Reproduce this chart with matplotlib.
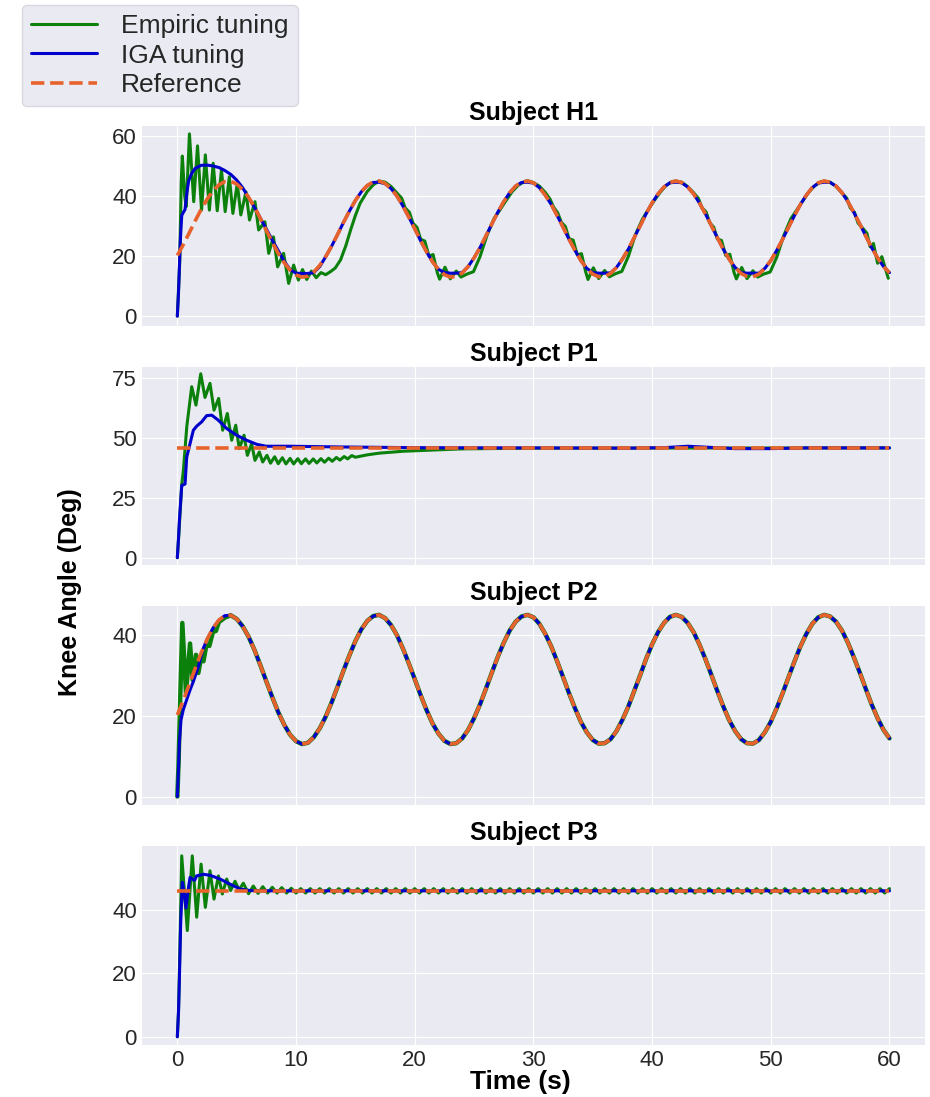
import numpy as np
import matplotlib.pyplot as plt

plt.style.use('seaborn-v0_8-darkgrid')
plt.rcParams['font.family'] = ['Liberation Sans', 'DejaVu Sans']

# reference knee trajectory (H1 and P2), sampled every 0.5 s from 0 to 60 s
ref_wave = [20.2, 23.8, 27.7, 31.7, 35.5, 38.9, 41.7, 43.7, 44.8, 44.9,
            44.0, 42.2, 39.6, 36.3, 32.5, 28.5, 24.6, 20.9, 17.8, 15.3,
            13.7, 13.0, 13.3, 14.7, 16.9, 19.8, 23.3, 27.2, 31.2, 35.0,
            38.5, 41.4, 43.5, 44.7, 45.0, 44.2, 42.5, 40.0, 36.7, 33.0,
            29.1, 25.1, 21.4, 18.1, 15.6, 13.8, 13.0, 13.2, 14.4, 16.5,
            19.4, 22.8, 26.7, 30.7, 34.6, 38.1, 41.1, 43.3, 44.6, 45.0,
            44.4, 42.8, 40.3, 37.2, 33.5, 29.6, 25.6, 21.9, 18.5, 15.9,
            14.0, 13.1, 13.2, 14.2, 16.2, 19.0, 22.3, 26.2, 30.1, 34.1,
            37.7, 40.7, 43.0, 44.5, 45.0, 44.5, 43.0, 40.7, 37.6, 34.0,
            30.1, 26.1, 22.3, 18.9, 16.2, 14.2, 13.2, 13.1, 14.0, 15.9,
            18.5, 21.9, 25.6, 29.6, 33.5, 37.2, 40.3, 42.8, 44.4, 45.0,
            44.6, 43.3, 41.1, 38.1, 34.5, 30.7, 26.7, 22.8, 19.4, 16.5,
            14.4]
ref_wave_t = 0.5 * np.arange(len(ref_wave))

# ---- Subject H1 ----
blue_h1_t = [0, 0.1, 0.25, 0.37, 0.5, 0.65, 0.8, 0.95, 1.2, 1.5, 2.0, 2.5, 3.0,
             3.5, 4.0, 4.5, 5.0, 5.5, 6.0, 6.5, 7.0, 7.5, 8.0, 8.5, 9.0, 9.5,
             10.0, 10.5, 11.0, 11.5, 12.0]
blue_h1 = [0, 8, 25, 33.5, 34.5, 35.5, 41, 45, 47.5, 49.2, 50.2, 50.3, 50.0,
           49.5, 48.5, 47.2, 45.3, 42.8, 39.5, 36.2, 32.6, 29.0, 25.3, 21.8, 18.3, 15.5,
           14.3, 14.2, 14.2, 14.5, 16.5]
blue_h1_late = [19.8, 23.3, 27.2, 31.2, 35.0, 38.5, 41.4, 43.5, 44.5, 44.6,
                44.1, 42.5, 40.0, 36.7, 33.0, 29.1, 25.1, 21.4, 18.1, 15.6,
                14.5, 14.3, 14.3, 14.5, 16.5, 19.4, 22.8, 26.7, 30.7, 34.6,
                38.1, 41.1, 43.3, 44.5, 44.6, 44.3, 42.8, 40.3, 37.2, 33.5,
                29.6, 25.6, 21.9, 18.5, 15.9, 14.5, 14.3, 14.3, 14.4, 16.2,
                19.0, 22.3, 26.2, 30.1, 34.1, 37.7, 40.7, 43.0, 44.4, 44.6,
                44.4, 43.0, 40.7, 37.6, 34.0, 30.1, 26.1, 22.3, 18.9, 16.2,
                14.5, 14.3, 14.3, 14.3, 15.9, 18.5, 21.9, 25.6, 29.6, 33.5,
                37.2, 40.3, 42.8, 44.3, 44.6, 44.5, 43.3, 41.1, 38.1, 34.5,
                30.7, 26.7, 22.8, 19.4, 16.5, 14.5]
blue_h1_late_t = 12.5 + 0.5 * np.arange(len(blue_h1_late))

green_h1_t = [0, 0.2, 0.33, 0.42, 0.62, 0.75, 1.02, 1.38, 1.7, 2.04, 2.36, 2.7,
              3.02, 3.36, 3.72, 4.03, 4.38, 4.68, 5.05, 5.35, 5.78, 6.08, 6.54, 6.85,
              7.38, 7.7, 8.1, 8.45, 8.95, 9.38, 9.8, 10.2, 10.55, 10.9, 11.3, 11.7,
              12.1, 12.5, 12.9, 13.3, 13.75, 14.2, 14.6, 15.0, 15.4, 16.0, 16.5,
              17.0, 17.5, 18.0, 18.5, 18.9, 19.2, 19.55, 19.85, 20.2, 20.5, 20.85, 21.2,
              21.55, 21.9, 22.1, 22.55, 23.0, 23.5, 23.9, 24.4, 24.95, 25.5, 26.1, 26.7,
              27.2, 27.7, 28.2, 28.7, 29.2,
              29.5, 30.0, 30.5, 31.0, 31.4, 31.7, 32.05, 32.35, 32.7, 33.0, 33.35, 33.7,
              34.05, 34.4, 34.6, 35.05, 35.5, 36.0, 36.4, 36.9, 37.45, 38.0, 38.6, 39.2,
              39.7, 40.2, 40.7, 41.2, 41.7,
              42.0, 42.5, 43.0, 43.5, 43.9, 44.2, 44.55, 44.85, 45.2, 45.5, 45.85, 46.2,
              46.55, 46.9, 47.1, 47.55, 48.0, 48.5, 48.9, 49.4, 49.95, 50.5, 51.1, 51.7,
              52.2, 52.7, 53.2, 53.7, 54.2,
              54.5, 55.0, 55.5, 56.0, 56.4, 56.7, 57.05, 57.35, 57.7, 58.1, 58.37, 58.65,
              59.0, 59.36, 59.9]
green_h1 = [0, 18, 45, 53.3, 40, 36.5, 60.7, 38.1, 56.7, 35.3, 53.7, 35.3,
            50.9, 35.1, 48.7, 34.8, 46.4, 34.2, 44.2, 33.7, 41.4, 32.0, 38.1, 28.7,
            31.4, 20.9, 26.4, 16.4, 20.9, 10.9, 17.0, 12.0, 15.5, 12.2, 15.0, 12.8,
            14.5, 13.8, 14.8, 16.0, 18.7, 23.5, 28.7, 33.5, 37.6, 41.5, 43.7,
            45.0, 44.6, 43.2, 41.0, 39.3, 36.0, 34.6, 31.0, 29.5, 25.6, 25.0, 20.0,
            20.5, 14.5, 12.3, 16.3, 12.4, 15.0, 13.0, 14.0, 14.8, 19.8, 27.0, 32.6,
            35.5, 38.5, 41.4, 43.5, 44.7,
            45.1, 44.5, 43.3, 41.2, 39.0, 36.3, 34.4, 31.3, 29.8, 25.8, 25.3, 20.4,
            20.8, 14.8, 12.2, 16.1, 12.5, 15.2, 13.1, 14.1, 14.9, 19.9, 27.2, 32.4,
            35.6, 38.6, 41.3, 43.6, 44.8,
            45.0, 44.6, 43.1, 41.1, 39.2, 36.1, 34.7, 31.1, 29.6, 25.7, 25.2, 20.2,
            20.6, 14.6, 12.4, 16.2, 12.5, 15.1, 13.0, 14.0, 14.7, 19.6, 26.9, 32.5,
            35.4, 38.4, 41.3, 43.4, 44.7,
            45.0, 44.6, 43.2, 41.0, 39.3, 36.0, 34.6, 31.0, 29.5, 27.6, 23.1, 24.2,
            17.6, 19.8, 12.6]

# ---- Subject P1 ----
ref_p1_t = [0, 60]
ref_p1 = [46.0, 46.0]
blue_p1_t = [0, 0.1, 0.17, 0.37, 0.5, 0.65, 0.79, 1.07, 1.35, 1.63, 2.05, 2.47, 2.9,
             3.45, 4.16, 5.0, 5.84, 6.69, 7.5, 9.5, 13.7, 20, 30, 38, 41, 43, 45, 47,
             50, 53, 60]
blue_p1 = [0, 8, 15.4, 30.2, 30.5, 30.8, 42, 47.7, 53.3, 55, 56.8, 59.4, 59.6,
           57.5, 54, 51.2, 49.1, 47.4, 46.6, 46.6, 46.3, 46.0, 45.9, 45.8, 46.0, 46.6, 46.1, 45.6,
           45.6, 45.9, 45.9]
green_p1_t = [0, 0.2, 0.37, 0.5, 0.8, 1.21, 1.57, 1.97, 2.33, 2.75,
              3.09, 3.48, 3.82, 4.21, 4.58, 4.92, 5.22, 5.62, 5.9, 6.26,
              6.54, 6.91, 7.19, 7.55, 7.85, 8.2, 8.5, 8.85, 9.15, 9.5,
              9.8, 10.15, 10.45, 10.8, 11.1, 11.45, 11.75, 12.1, 12.4, 12.75,
              13.05, 13.4, 13.7, 14.05, 14.35, 14.7, 15.0, 16.0, 17.0, 18.0,
              19.0, 20.0, 22.0, 24.0, 26.0, 30.0, 60.0]
green_p1 = [0, 16, 30.5, 36, 55, 71.5, 63.8, 76.9, 67, 72.9,
            61.7, 66.6, 53.3, 60.3, 49.1, 55.4, 45.6, 51.2, 42.8, 47.7,
            40.7, 44.2, 40.0, 42.8, 39.5, 42.2, 39.3, 41.8, 39.2, 41.5,
            39.2, 41.4, 39.3, 41.3, 39.4, 41.3, 39.6, 41.4, 39.9, 41.6,
            40.3, 41.9, 40.8, 42.3, 41.3, 42.7, 42.0, 43.0, 43.7, 44.1,
            44.5, 44.7, 45.1, 45.5, 45.6, 45.8, 45.9]

# ---- Subject P2 ----
blue_p2_t = [0, 0.1, 0.17, 0.31, 0.5, 0.79, 1.07, 1.35, 1.77, 2.2]
blue_p2 = [0, 7, 13.2, 19, 21.5, 24, 26.4, 28.5, 32.2, 36.8]
green_p2_t = [0, 0.1, 0.25, 0.42, 0.73, 1.07, 1.29, 1.57, 1.77, 2.0, 2.2, 2.45,
              2.7, 3.0, 3.25, 3.5, 4.0]
green_p2 = [0, 8, 25, 43, 25.6, 37.9, 28.9, 35.1, 30.6, 34.3, 33.5, 37.5,
            37.3, 40.8, 41.0, 43.2, 44.3]

# ---- Subject P3 ----
ref_p3_t = [0, 60]
ref_p3 = [45.8, 45.8]
blue_p3_t = [0, 0.1, 0.17, 0.28, 0.42, 0.55, 0.73, 0.9, 1.07, 1.3, 1.45, 1.63, 2.19,
             2.75, 3.6, 4.44, 5.28, 6.1, 7.0, 60]
blue_p3 = [0, 8, 17.8, 35.5, 48.6, 46, 40.5, 46, 50.1, 49.5, 49.2, 50.6, 51.1,
           50.8, 49.6, 48.0, 46.5, 46.0, 45.9, 45.9]
green_p3_t = [0, 0.1, 0.2, 0.37, 0.84, 1.26, 1.63, 2.0, 2.36, 2.75, 3.09, 3.46,
              3.79, 4.16, 4.49, 4.86, 5.2, 5.56]
green_p3 = [0, 8, 25, 56.9, 33.4, 56.9, 37.6, 54.3, 40.7, 52.2, 43.3, 50.6,
            44.9, 49.6, 46.0, 48.9, 46.2, 48.3]
# small steady ripple after the transient, every 0.4 s from 6 s
green_p3_ripple = [45.0, 47.4, 45.1, 47.2, 45.2, 47.0, 45.2, 46.9,
                   45.2, 46.7, 45.2, 46.6, 45.2, 46.6, 45.2, 46.6,
                   45.2, 46.6, 45.2, 46.6, 45.2, 46.6, 45.2, 46.6,
                   45.2, 46.6, 45.2, 46.6, 45.2, 46.6, 45.2, 46.6,
                   45.2, 46.6, 45.2, 46.6, 45.2, 46.6, 45.2, 46.6,
                   45.2, 46.6, 45.2, 46.6, 45.2, 46.6, 45.2, 46.6,
                   45.2, 46.6, 45.2, 46.6, 45.2, 46.6, 45.2, 46.6,
                   45.2, 46.6, 45.2, 46.6, 45.2, 46.6, 45.2, 46.6,
                   45.2, 46.6, 45.2, 46.6, 45.2, 46.6, 45.2, 46.6,
                   45.2, 46.6, 45.2, 46.6, 45.2, 46.6, 45.2, 46.6,
                   45.2, 46.6, 45.2, 46.6, 45.2, 46.6, 45.2, 46.6,
                   45.2, 46.6, 45.2, 46.6, 45.2, 46.6, 45.2, 46.6,
                   45.2, 46.6, 45.2, 46.6, 45.2, 46.6, 45.2, 46.6,
                   45.2, 46.6, 45.2, 46.6, 45.2, 46.6, 45.2, 46.6,
                   45.2, 46.6, 45.2, 46.6, 45.2, 46.6, 45.2, 46.6,
                   45.2, 46.6, 45.2, 46.6, 45.2, 46.6, 45.2, 46.6,
                   45.2, 46.6, 45.2, 46.6, 45.2, 46.6, 45.2, 46.6]
green_p3_ripple_t = 6.0 + 0.4 * np.arange(len(green_p3_ripple))

titles = ['Subject H1', 'Subject P1', 'Subject P2', 'Subject P3']
yticks = [[0, 20, 40, 60], [0, 25, 50, 75], [0, 20, 40], [0, 20, 40]]
ylims = [(-3.3, 63.3), (-3.05, 79.9), (-2.1, 47.2), (-2.6, 60.0)]
xticks = [0, 10, 20, 30, 40, 50, 60]

c_green = '#0b800b'
c_blue = '#0000cc'
c_ref = '#e8622c'

fig = plt.figure(figsize=(9.3, 10.97), dpi=100)
boxes = [(0.1524, 0.7028, 0.8423, 0.1823),
         (0.1524, 0.4850, 0.8423, 0.1808),
         (0.1524, 0.2662, 0.8423, 0.1814),
         (0.1524, 0.0474, 0.8423, 0.1814)]
axes = [fig.add_axes(b) for b in boxes]

ax = axes[0]
ax.plot(green_h1_t, green_h1, color=c_green, lw=2.2, label='Empiric tuning')
ax.plot(list(blue_h1_t) + list(blue_h1_late_t), blue_h1 + blue_h1_late, color=c_blue, lw=2.2, label='IGA tuning')
ax.plot(ref_wave_t, ref_wave, color=c_ref, lw=2.6, ls='--', label='Reference')

ax = axes[1]
ax.plot(green_p1_t, green_p1, color=c_green, lw=2.2)
ax.plot(blue_p1_t, blue_p1, color=c_blue, lw=2.2)
ax.plot(ref_p1_t, ref_p1, color=c_ref, lw=2.6, ls='--')

ax = axes[2]
ax.plot(list(green_p2_t) + list(ref_wave_t[9:]), green_p2 + ref_wave[9:], color=c_green, lw=3.2)
ax.plot(list(blue_p2_t) + list(ref_wave_t[5:]), blue_p2 + ref_wave[5:], color=c_blue, lw=2.2)
ax.plot(ref_wave_t, ref_wave, color=c_ref, lw=2.6, ls='--')

ax = axes[3]
ax.plot(list(green_p3_t) + list(green_p3_ripple_t), green_p3 + green_p3_ripple, color=c_green, lw=2.2)
ax.plot(blue_p3_t, blue_p3, color=c_blue, lw=2.2)
ax.plot(ref_p3_t, ref_p3, color=c_ref, lw=2.6, ls='--')

for i, ax in enumerate(axes):
    ax.set_xlim(-3, 63)
    ax.set_ylim(*ylims[i])
    ax.set_xticks(xticks)
    ax.set_yticks(yticks[i])
    ax.tick_params(labelsize=16, colors='#262626')
    ax.set_title(titles[i], fontsize=18, fontweight='bold', color='black', pad=4)
    if i < 3:
        ax.set_xticklabels([])

fig.text(0.075, 0.46, 'Knee Angle (Deg)', rotation=90, fontsize=18, fontweight='bold',
         color='black', ha='center', va='center')
fig.text(0.560, 0.0137, 'Time (s)', fontsize=19, fontweight='bold', color='black',
         ha='center', va='center')

h, l = axes[0].get_legend_handles_labels()
fig.legend(h, l, loc='upper left', bbox_to_anchor=(22 / 930, 1 - 5 / 1097), borderaxespad=0,
           fontsize=19, frameon=True, facecolor='#eaeaf2', edgecolor='#d8d8e0', framealpha=1,
           handlelength=2.5, handletextpad=0.9, labelspacing=0.2, borderpad=0.35)

plt.savefig('out.png', dpi=100)
